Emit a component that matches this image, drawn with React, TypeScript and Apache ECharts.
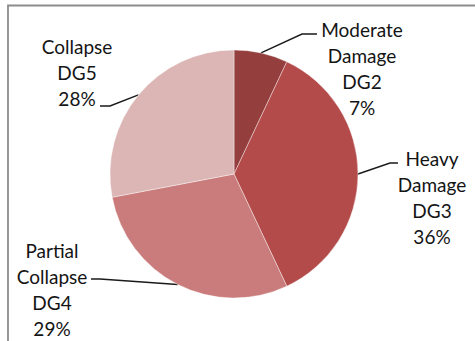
import React, { useEffect, useRef } from "react";
import * as echarts from "echarts";

// Damage grade shares (percent), clockwise from 12 o'clock
const gradeNames = ["Moderate\nDamage\nDG2", "Heavy\nDamage\nDG3", "Partial\nCollapse\nDG4", "Collapse\nDG5"];
const gradeShares = [7, 36, 29, 28];
const gradeColors = ["#943e3d", "#b34b4a", "#c97c7b", "#dbb6b5"];

// Label block centres and leader-line elbows for each slice
const labelCentres: [number, number][] = [
  [362, 68],
  [432, 197],
  [52, 289],
  [77, 72],
];
const leaderElbows: [number, number][][] = [
  [[302, 34], [317, 34]],
  [[390, 163], [398, 163]],
  [[100, 279], [91, 279]],
  [[110, 106], [100, 106]],
];

export default function App() {
  const ref = useRef<HTMLDivElement>(null);

  useEffect(() => {
    if (!ref.current) return;
    const chart = echarts.init(ref.current, null, { renderer: "svg" });
    chart.setOption({
      animation: false,
      backgroundColor: "#ffffff",
      graphic: [
        {
          type: "rect",
          shape: { x: 8, y: 5.5, width: 500, height: 400 },
          style: { fill: "none", stroke: "#8c8c8c", lineWidth: 1.8 },
          silent: true,
        },
      ],
      series: [
        {
          type: "pie",
          center: [234, 174],
          radius: 124,
          startAngle: 90,
          clockwise: true,
          avoidLabelOverlap: false,
          itemStyle: { borderColor: "#ffffff", borderWidth: 0.4 },
          label: {
            show: true,
            position: "outside",
            formatter: (p: any) => `${p.name}\n${p.value}%`,
            fontFamily: "Lato, 'Noto Sans', sans-serif",
            fontSize: 19,
            lineHeight: 26,
            color: "#141414",
            align: "center",
          },
          labelLine: {
            show: true,
            length: 10,
            length2: 10,
            lineStyle: { color: "#1a1a1a", width: 1.4 },
          },
          labelLayout: (params: any) => {
            const i = params.dataIndex;
            const start = params.labelLinePoints ? params.labelLinePoints[0] : null;
            const out: any = {
              x: labelCentres[i][0],
              y: labelCentres[i][1],
              align: "center",
              verticalAlign: "middle",
            };
            if (start) {
              out.labelLinePoints = [start, leaderElbows[i][0], leaderElbows[i][1]];
            }
            return out;
          },
          data: gradeShares.map((v, i) => ({
            name: gradeNames[i],
            value: v,
            itemStyle: { color: gradeColors[i] },
          })),
        },
      ],
    });
    return () => chart.dispose();
  }, []);

  return (
    <div
      ref={ref}
      style={{ position: "fixed", left: 0, top: 0, width: 475, height: 341 }}
    />
  );
}
